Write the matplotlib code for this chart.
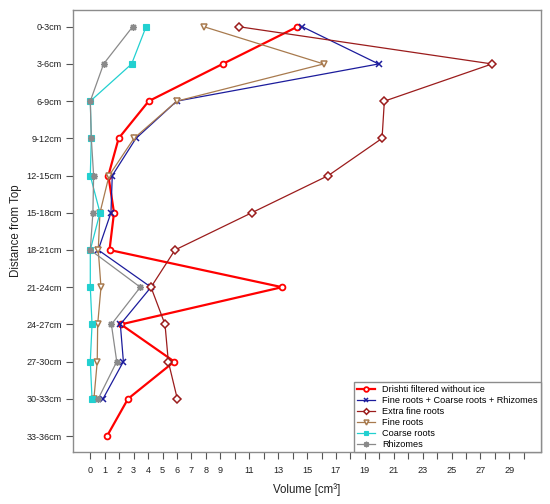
import numpy as np
import matplotlib
matplotlib.use("Agg")
import matplotlib.pyplot as plt

plt.rcParams['font.family'] = ['Liberation Sans', 'DejaVu Sans']

depths = ["0-3cm", "3-6cm", "6-9cm", "9-12cm", "12-15cm", "15-18cm", "18-21cm",
          "21-24cm", "24-27cm", "27-30cm", "30-33cm", "33-36cm"]
nan = np.nan
drishti = [14.33, 9.16, 4.04, 1.96, 1.25, 1.64, 1.33, 13.27, 2.12, 5.81, 2.61, 1.16]
combined = [14.67, 19.95, 5.98, 3.16, 1.52, 1.43, 0.55, 4.2, 2.08, 2.29, 0.88, nan]
extra_fine = [10.29, 27.8, 20.35, 20.19, 16.47, 11.17, 5.86, 4.2, 5.17, 5.4, 6.02, nan]
fine = [7.87, 16.15, 5.98, 3.02, 1.3, 0.67, 0.55, 0.74, 0.51, 0.48, 0.25, nan]
coarse = [3.86, 2.86, 0.0, 0.07, 0.0, 0.67, 0.0, 0.0, 0.12, 0.0, 0.12, nan]
rhizomes = [2.93, 0.92, 0.0, 0.07, 0.23, 0.18, 0.0, 3.46, 1.46, 1.83, 0.55, nan]

xticks = list(range(0, 31))
xticklabels = [str(v) if (v <= 9 or (v % 2 == 1 and v <= 29)) else "" for v in xticks]

fig = plt.figure(figsize=(5.5, 5.04), dpi=100)
ax = fig.add_axes([73/550, 1-452/504, (541-73)/550, (452-10)/504])

y = np.arange(len(depths))
series = [
    ("Drishti filtered without ice", drishti, dict(color="#FF0000", marker="o", lw=1.6, ms=4.2,
                                                  mfc="white", mew=1.3)),
    ("Fine roots + Coarse roots + Rhizomes", combined, dict(color="#1C1C9C", marker="x", lw=0.9, ms=4.2, mew=1.1)),
    ("Extra fine roots", extra_fine, dict(color="#9B1C1C", marker="D", lw=0.9, ms=3.6, mfc="white", mew=1.1)),
    ("Fine roots", fine, dict(color="#A87A4E", marker="v", lw=0.9, ms=4.4, mfc="white", mew=1.1)),
    ("Coarse roots", coarse, dict(color="#22D0D0", marker="s", lw=0.9, ms=4.0, mfc="#22D0D0", mew=0.8)),
    ("Rhizomes", rhizomes, dict(color="#8A8A8A", marker=(8, 2, 0), lw=0.9, ms=5.0, mew=1.0)),
]
for label, vals, kw in series:
    ax.plot(vals, y, label=label, **kw)

ax.set_xlim(-1.197, 31.19)
ax.set_ylim(11.43, -0.45)
ax.set_yticks(y)
ax.set_yticklabels(depths, fontsize=6.6, color="#222222")
ax.set_xticks(xticks)
ax.set_xticklabels(xticklabels, fontsize=6.6, color="#222222")
ax.tick_params(axis='both', length=5, width=0.8, color="#555555", pad=3)
ax.tick_params(axis='x', pad=5)

for s in ax.spines.values():
    s.set_color("#8C8C8C")
    s.set_linewidth(1.0)

ax.set_xlabel("Volume [cm³]", fontsize=8.3, color="#222222", labelpad=6)
ax.set_ylabel("Distance from Top", fontsize=8.3, color="#222222", labelpad=3)

leg = ax.legend(loc="lower right", bbox_to_anchor=(1.0, 0.0), borderaxespad=0.0,
                fontsize=6.6, frameon=True, fancybox=False, framealpha=1,
                edgecolor="#8C8C8C", handlelength=1.9, handletextpad=0.85,
                labelspacing=0.22, borderpad=0.35, markerscale=0.8)
leg.get_frame().set_linewidth(1.0)

fig.savefig("out.png", dpi=100)
